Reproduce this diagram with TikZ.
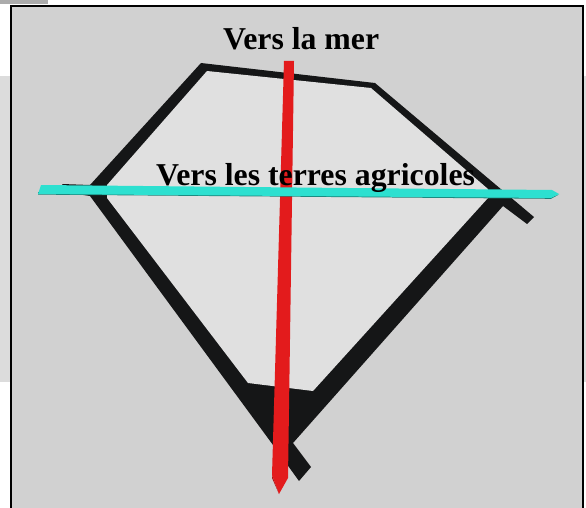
\documentclass[tikz,border=0pt]{standalone}
\usepackage{fontspec}
\setmainfont{Liberation Serif}
\definecolor{stripgray}{HTML}{DCDCDC}
\definecolor{tabgray}{HTML}{ABABAB}
\definecolor{groundgray}{HTML}{D1D1D1}
\definecolor{plotgray}{HTML}{E0E0E0}
\definecolor{wallblack}{HTML}{151617}
\definecolor{seared}{HTML}{E31B1C}
\definecolor{seareddark}{HTML}{A81517}
\definecolor{landcyan}{HTML}{2DE0D0}
\definecolor{landcyandark}{HTML}{1A7F76}
\tikzset{
  x=1pt,y=-1pt,
  wall/.style={fill=wallblack,draw=none},
  label/.style={font=\bfseries\fontsize{31.8}{34}\selectfont,text=black,inner sep=0pt,anchor=base west},
}
\begin{document}
\begin{tikzpicture}
\useasboundingbox (0,0) rectangle (586,508);
% page strips behind the frame
\fill[white] (0,0) rectangle (586,508);
\fill[tabgray] (0,0) rectangle (48,4);
\fill[stripgray] (0,76) rectangle (11,382);
\fill[stripgray] (583,76) rectangle (586,382);
% ground and frame
\fill[groundgray] (11,6) rectangle (583,508);
\draw[black,line width=2pt] (11,509) -- (11,6) -- (583,6) -- (583,509);
% walls, outer outline with tails
\fill[wall] (62,184) -- (90,185) -- (201,63) -- (375,83) -- (534,217) -- (527,224)
  -- (503,206) -- (293,443) -- (311,467) -- (299,481) -- (273,445) -- (90,196) -- (70,193) -- cycle;
% plot interior
\fill[plotgray] (207,71) -- (371,88) -- (488,189) -- (488,198) -- (313,391) -- (248,383) -- (107,198) -- (107,185) -- cycle;
% red ribbon
\fill[seareddark] (272,475) -- (279,494) -- (272,478) -- cycle;
\fill[seared] (284,61) -- (294,61) -- (288,478) -- (279,494) -- (272,475) -- cycle;
% cyan ribbon
\fill[landcyandark] (38,194.6) -- (551,198.8) -- (559,194.5) -- (552,197) -- (38,192) -- cycle;
\fill[landcyan] (41,185) -- (552,190) -- (559,194) -- (551,198) -- (38,194) -- cycle;
% labels
\node[label] (mer) at (223,50) {Vers la mer};
\node[label] (terres) at (156,185) {Vers les terres agricoles};
\end{tikzpicture}
\end{document}
